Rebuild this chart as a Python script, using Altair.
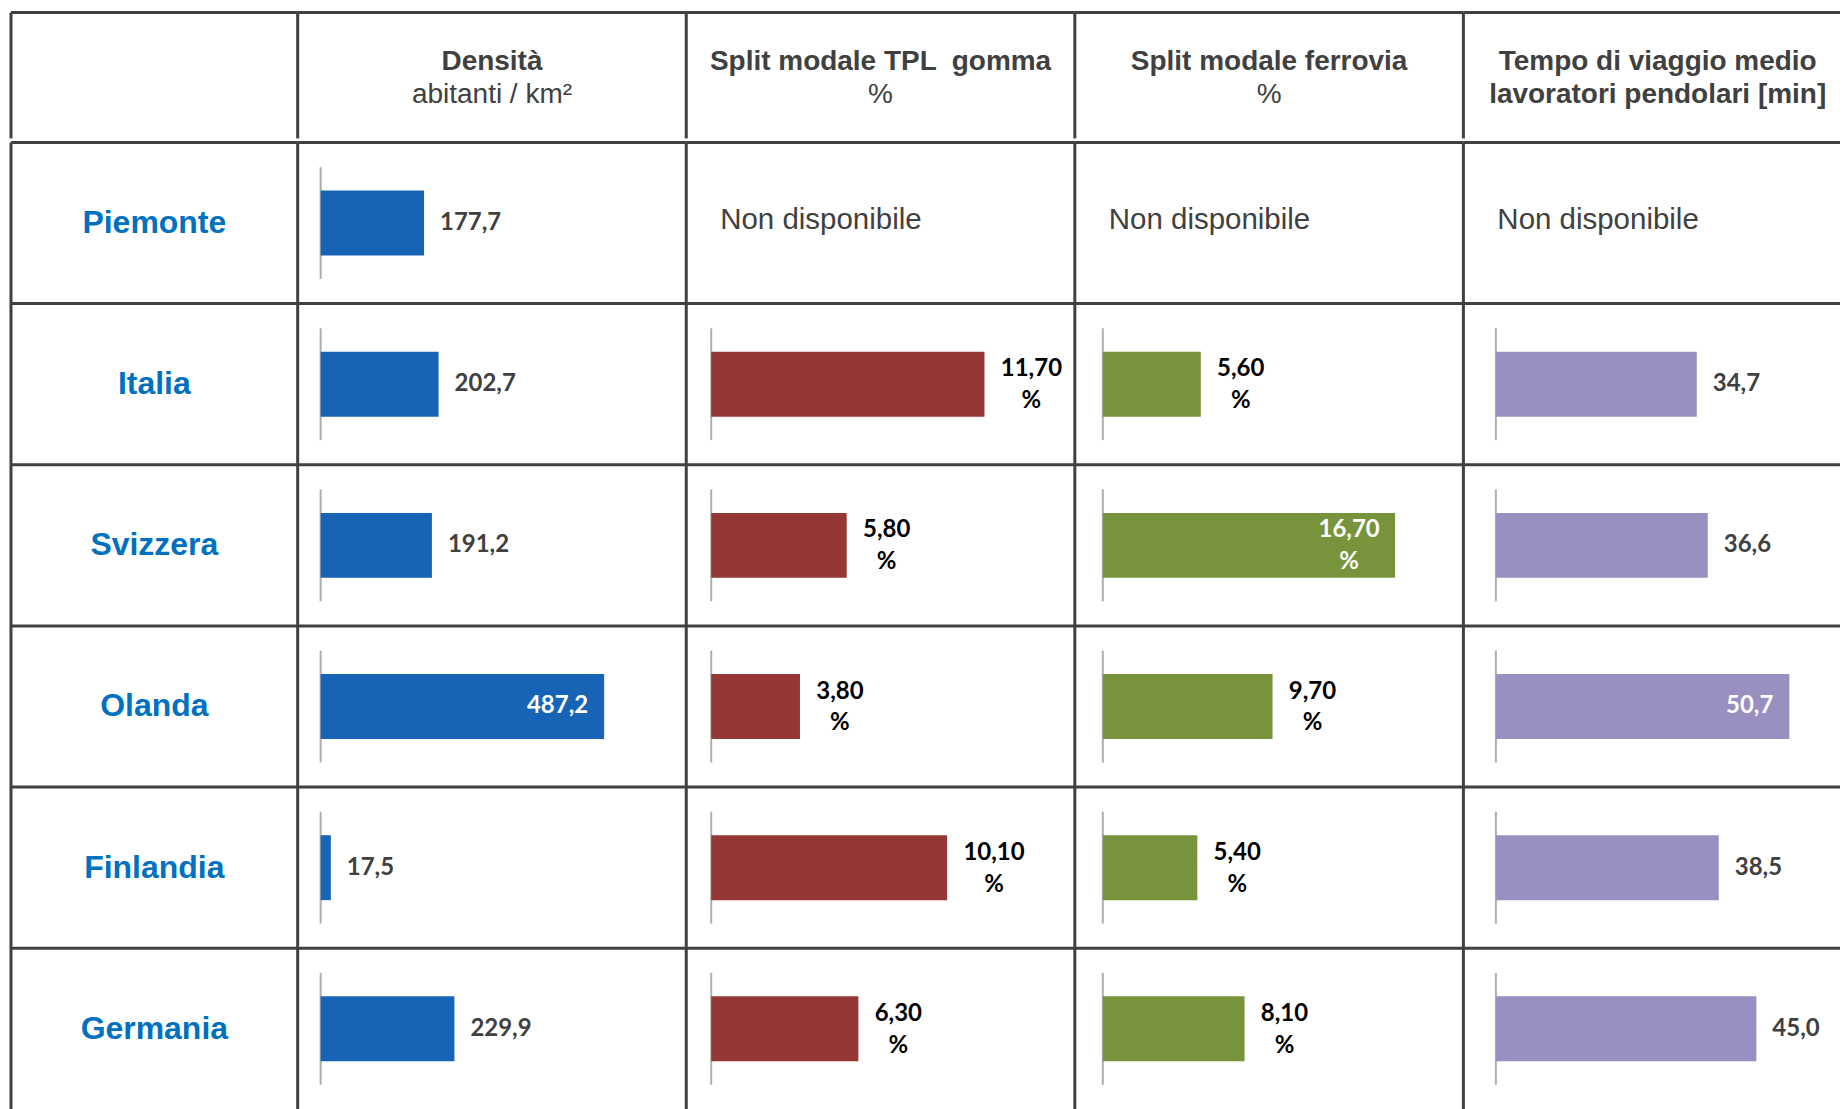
import altair as alt
import pandas as pd

# ---------------- data ----------------
countries = ["Piemonte", "Italia", "Svizzera", "Olanda", "Finlandia", "Germania"]
densita = [177.7, 202.7, 191.2, 487.2, 17.5, 229.9]
split_tpl_gomma = [None, 11.70, 5.80, 3.80, 10.10, 6.30]
split_ferrovia = [None, 5.60, 16.70, 9.70, 5.40, 8.10]
tempo_viaggio = [None, 34.7, 36.6, 50.7, 38.5, 45.0]

header_line1 = ["", "Densità", "Split modale TPL \u00a0gomma", "Split modale ferrovia", "Tempo di viaggio medio"]
header_line2 = ["", "abitanti / km²", "%", "%", "lavoratori pendolari [min]"]
missing_label = "Non disponibile"

# ---------------- layout / style ----------------
COL_W = [287, 389, 389, 389, 377]
FULL_COL_W = 389  # the last column is cut off by the window edge
HEAD_H = 126
BODY_H = 968
GRID = "#404040"
AXIS_GRAY = "#8c8c8c"
TABLE_FONT = "Liberation Sans"
LABEL_FONT = "Lato"

ysc = alt.Scale(domain=countries, paddingInner=0, paddingOuter=0)


def yenc(**kw):
    return alt.Y("country:N", scale=ysc, axis=None, **kw)


one = pd.DataFrame({"k": [0]})


def left_border(h):
    return alt.Chart(one).mark_rule(color=GRID, strokeWidth=3).encode(
        x=alt.value(0), y=alt.value(0), y2=alt.value(h)
    )


def header_chart(i):
    w = COL_W[i]
    cx = (COL_W[0] if i == 0 else FULL_COL_W) / 2
    df = pd.DataFrame({"l1": [header_line1[i]], "l2": [header_line2[i]]})
    base = alt.Chart(df)
    top = alt.Chart(one).mark_rule(color=GRID, strokeWidth=3).encode(
        y=alt.value(0), x=alt.value(0), x2=alt.value(w)
    )
    t1 = base.mark_text(font=TABLE_FONT, fontSize=28, fontWeight="bold", color="#404040",
                        align="center", baseline="middle").encode(
        text="l1:N", x=alt.value(cx), y=alt.value(49))
    w2 = "bold" if i == 4 else "normal"
    t2 = base.mark_text(font=TABLE_FONT, fontSize=28, fontWeight=w2, color="#404040",
                        align="center", baseline="middle").encode(
        text="l2:N", x=alt.value(cx), y=alt.value(83))
    return alt.layer(top, left_border(HEAD_H), t1, t2).properties(width=w, height=HEAD_H)


def names_chart():
    w = COL_W[0]
    df = pd.DataFrame({"country": countries})
    base = alt.Chart(df)
    rules = base.mark_rule(color=GRID, strokeWidth=3).encode(y=yenc(bandPosition=0))
    names = base.mark_text(font=TABLE_FONT, fontSize=32, fontWeight="bold", color="#0070C0",
                           align="center", baseline="middle").encode(
        y=yenc(), x=alt.value(w / 2), text="country:N")
    return alt.layer(rules, left_border(BODY_H), names).properties(width=w, height=BODY_H)


def metric_chart(i, values, color, dmax, x0, ppu, label_color, percent):
    w = COL_W[i]
    df = pd.DataFrame({"country": countries, "v": values})
    xsc = alt.Scale(domain=[0, dmax], range=[x0, x0 + ppu * dmax], nice=False)
    base = alt.Chart(df)
    valid = base.transform_filter("isValid(datum.v)")
    thr = 0.8 * dmax

    rules = base.mark_rule(color=GRID, strokeWidth=3).encode(y=yenc(bandPosition=0))
    missing = base.transform_filter("!isValid(datum.v)").mark_text(
        text=missing_label, align="left", baseline="middle", font=TABLE_FONT,
        fontSize=29.5, color="#404040", dy=-3).encode(y=yenc(), x=alt.value(34))
    tick = valid.transform_calculate(zero="0").mark_tick(
        color=AXIS_GRAY, thickness=2, size=112).encode(
        x=alt.X("zero:Q", scale=xsc, axis=None), y=yenc())
    bars = valid.mark_bar(color=color, size=65).encode(
        x=alt.X("v:Q", scale=xsc, axis=None), y=yenc())

    layers = [rules, left_border(BODY_H), missing, tick, bars]
    txt = dict(font=LABEL_FONT, fontSize=24, fontWeight="bold", baseline="middle")
    if percent:
        lab = valid.transform_calculate(
            lab="replace(format(datum.v, '.2f'), '.', ',') + '\\n%'",
            n="length(replace(format(datum.v, '.2f'), '.', ','))")
        enc = dict(x=alt.X("v:Q", scale=xsc, axis=None), y=yenc(), text="lab:N")
        ml = dict(lineBreak="\n", lineHeight=32, dy=-15)
        out_long = lab.transform_filter(f"datum.v <= {thr} && datum.n > 4").mark_text(
            align="center", dx=47, color=label_color, **ml, **txt).encode(**enc)
        out_short = lab.transform_filter(f"datum.v <= {thr} && datum.n <= 4").mark_text(
            align="center", dx=40, color=label_color, **ml, **txt).encode(**enc)
        inside = lab.transform_filter(f"datum.v > {thr}").mark_text(
            align="center", dx=-46, color="white", **ml, **txt).encode(**enc)
        layers += [out_long, out_short, inside]
    else:
        lab = valid.transform_calculate(lab="replace(format(datum.v, '.1f'), '.', ',')")
        enc = dict(x=alt.X("v:Q", scale=xsc, axis=None), y=yenc(), text="lab:N")
        out = lab.transform_filter(f"datum.v <= {thr}").mark_text(
            align="left", dx=16, color=label_color, **txt).encode(**enc)
        inside = lab.transform_filter(f"datum.v > {thr}").mark_text(
            align="right", dx=-16, color="white", **txt).encode(**enc)
        layers += [out, inside]
    return alt.layer(*layers).properties(width=w, height=BODY_H)


headers = alt.hconcat(*[header_chart(i) for i in range(5)], spacing=0, bounds="flush")
bodies = alt.hconcat(
    names_chart(),
    metric_chart(1, densita, "#1763B5", 600, 23, 0.5825, "#404040", False),
    metric_chart(2, split_tpl_gomma, "#953735", 15, 25, 23.38, "#000000", True),
    metric_chart(3, split_ferrovia, "#77933C", 20, 28, 17.52, "#000000", True),
    metric_chart(4, tempo_viaggio, "#998FC1", 60, 32.5, 5.795, "#404040", False),
    spacing=0, bounds="flush",
)

chart = alt.vconcat(headers, bodies, spacing=0).properties(
    padding={"left": 9, "top": 10, "right": 0, "bottom": 0},
    background="white",
).configure_view(stroke=None)

chart.save("out.html", embed_options={"renderer": "svg", "actions": False})
